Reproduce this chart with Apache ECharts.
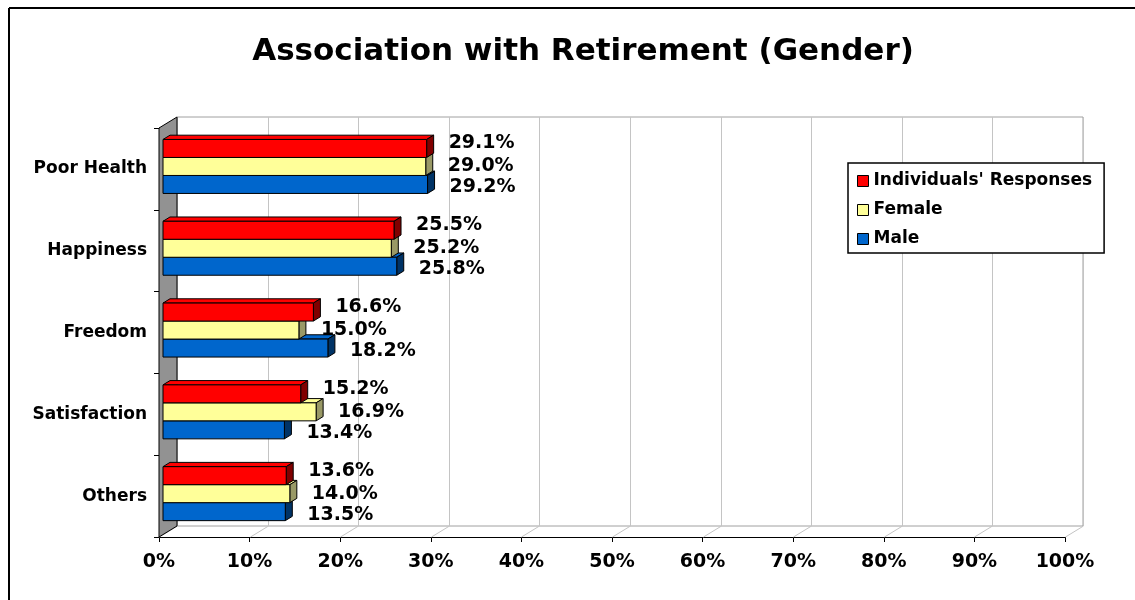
<!DOCTYPE html>
<html><head><meta charset="utf-8">
<script src="https://cdn.jsdelivr.net/npm/echarts@6/dist/echarts.min.js"></script>
<style>html,body{margin:0;padding:0;background:#fff;overflow:hidden}#c{width:1135px;height:600px}</style>
</head><body><div id="c"></div>
<script>
const categories = ['Poor Health', 'Happiness', 'Freedom', 'Satisfaction', 'Others'];
const individuals = [29.1, 25.5, 16.6, 15.2, 13.6];
const female = [29.0, 25.2, 15.0, 16.9, 14.0];
const male = [29.2, 25.8, 18.2, 13.4, 13.5];
const seriesNames = ["Individuals' Responses", 'Female', 'Male'];
const xTicks = [0, 10, 20, 30, 40, 50, 60, 70, 80, 90, 100];
const titleText = 'Association with Retirement (Gender)';

const FONT = '"DejaVu Sans", "Liberation Sans", sans-serif';
const DEPTH = [18, -11];
const BAR_FRONT = 4 / 18, BAR_BACK = 11 / 18;
const BAR_FRAC = 0.22;
const LABEL_GAP = 15;

function renderWalls(params, api) {
  const cs = params.coordSys;
  const L = cs.x, R = cs.x + cs.width, T = cs.y, B = cs.y + cs.height;
  const dx = DEPTH[0], dy = DEPTH[1];
  const ch = [];
  ch.push({ type: 'rect', shape: { x: L + dx, y: T + dy, width: cs.width, height: cs.height },
    style: { fill: '#fff', stroke: '#a0a0a0', lineWidth: 1 } });
  xTicks.forEach(v => {
    const x = Math.round(api.coord([v, 0])[0]) + 0.5;
    ch.push({ type: 'line', shape: { x1: x + dx, y1: T + dy, x2: x + dx, y2: B + dy },
      style: { stroke: '#c4c4c4', lineWidth: 1 } });
    ch.push({ type: 'line', shape: { x1: x, y1: B, x2: x + dx, y2: B + dy },
      style: { stroke: '#c4c4c4', lineWidth: 1 } });
  });
  ch.push({ type: 'polygon', shape: { points: [[L, T], [L + dx, T + dy], [L + dx, B + dy], [L, B]] },
    style: { fill: '#929292', stroke: '#000', lineWidth: 1 } });
  return { type: 'group', children: ch };
}

function makeBarRender(slot, color, side, labelDy) {
  return function (params, api) {
    const val = api.value(0), cat = api.value(1);
    const c0 = api.coord([0, cat]);
    const c1 = api.coord([val, cat]);
    const bandH = api.size([0, 1])[1];
    const h = bandH * BAR_FRAC;
    const fx = DEPTH[0] * BAR_FRONT, fy = DEPTH[1] * BAR_FRONT;
    const ddx = DEPTH[0] * (BAR_BACK - BAR_FRONT), ddy = DEPTH[1] * (BAR_BACK - BAR_FRONT);
    const yc = c0[1] + fy + slot * h;
    const x0 = c0[0] + fx, x1 = c1[0] + fx, y0 = yc - h / 2, y1 = yc + h / 2;
    const st = { stroke: '#000', lineWidth: 1, lineJoin: 'round' };
    return { type: 'group', children: [
      { type: 'polygon', shape: { points: [[x0, y0], [x1, y0], [x1 + ddx, y0 + ddy], [x0 + ddx, y0 + ddy]] },
        style: Object.assign({ fill: color }, st) },
      { type: 'polygon', shape: { points: [[x1, y0], [x1 + ddx, y0 + ddy], [x1 + ddx, y1 + ddy], [x1, y1]] },
        style: Object.assign({ fill: side }, st) },
      { type: 'rect', shape: { x: x0, y: y0, width: x1 - x0, height: h },
        style: Object.assign({ fill: color }, st) },
      { type: 'text', x: x1 + ddx + LABEL_GAP, y: yc + labelDy,
        style: { text: val.toFixed(1) + '%', fontFamily: FONT, fontWeight: 'bold', fontSize: 19,
          fill: '#000', align: 'left', verticalAlign: 'middle' } }
    ]};
  };
}

const toData = arr => arr.map((v, i) => [v, i]);

const chart = echarts.init(document.getElementById('c'), null, { renderer: 'canvas' });
chart.setOption({
  animation: false,
  backgroundColor: '#fff',
  title: { text: titleText, left: 578, textAlign: 'center', top: 31,
    textStyle: { fontFamily: FONT, fontWeight: 'bold', fontSize: 31, color: '#000' } },
  legend: {
    data: seriesNames, orient: 'vertical', left: 848, top: 163, z: 20,
    padding: [8, 12, 4, 9], itemWidth: 11, itemHeight: 11, itemGap: 9,
    backgroundColor: '#fff', borderColor: '#000', borderWidth: 1.5,
    icon: 'rect', itemStyle: { borderColor: '#000', borderWidth: 1 },
    textStyle: { fontFamily: FONT, fontWeight: 'bold', fontSize: 17, color: '#000', lineHeight: 20 }
  },
  graphic: [
    { type: 'line', z: -10, shape: { x1: 9, y1: 8, x2: 1135, y2: 8 }, style: { stroke: '#000', lineWidth: 2 } },
    { type: 'line', z: -10, shape: { x1: 9, y1: 8, x2: 9, y2: 600 }, style: { stroke: '#000', lineWidth: 2 } }
  ],
  grid: { left: 159, right: 70, top: 128, bottom: 63 },
  xAxis: {
    type: 'value', min: 0, max: 100, interval: 10,
    axisLine: { show: true, lineStyle: { color: '#000', width: 1 } },
    axisTick: { show: true, length: 5, lineStyle: { color: '#000' } },
    splitLine: { show: false },
    axisLabel: { formatter: '{value}%', fontFamily: FONT, fontWeight: 'bold', fontSize: 19, color: '#000', margin: 16 }
  },
  yAxis: {
    type: 'category', data: categories, inverse: true,
    axisLine: { show: true, lineStyle: { color: '#000' } },
    axisTick: { show: true, length: 5, lineStyle: { color: '#000' } },
    splitLine: { show: false },
    axisLabel: { fontFamily: FONT, fontWeight: 'bold', fontSize: 17, color: '#000', margin: 12 }
  },
  series: [
    { type: 'custom', name: '_walls', silent: true, z: 1, renderItem: renderWalls, data: [[0, 0]] },
    { type: 'custom', name: seriesNames[2], z: 2, itemStyle: { color: '#0066CC' },
      renderItem: makeBarRender(1, '#0066CC', '#003366', 3), data: toData(male) },
    { type: 'custom', name: seriesNames[1], z: 3, itemStyle: { color: '#FFFF99' },
      renderItem: makeBarRender(0, '#FFFF99', '#999966', 0), data: toData(female) },
    { type: 'custom', name: seriesNames[0], z: 4, itemStyle: { color: '#FF0000' },
      renderItem: makeBarRender(-1, '#FF0000', '#800000', -5), data: toData(individuals) }
  ]
});
</script>
</body></html>
